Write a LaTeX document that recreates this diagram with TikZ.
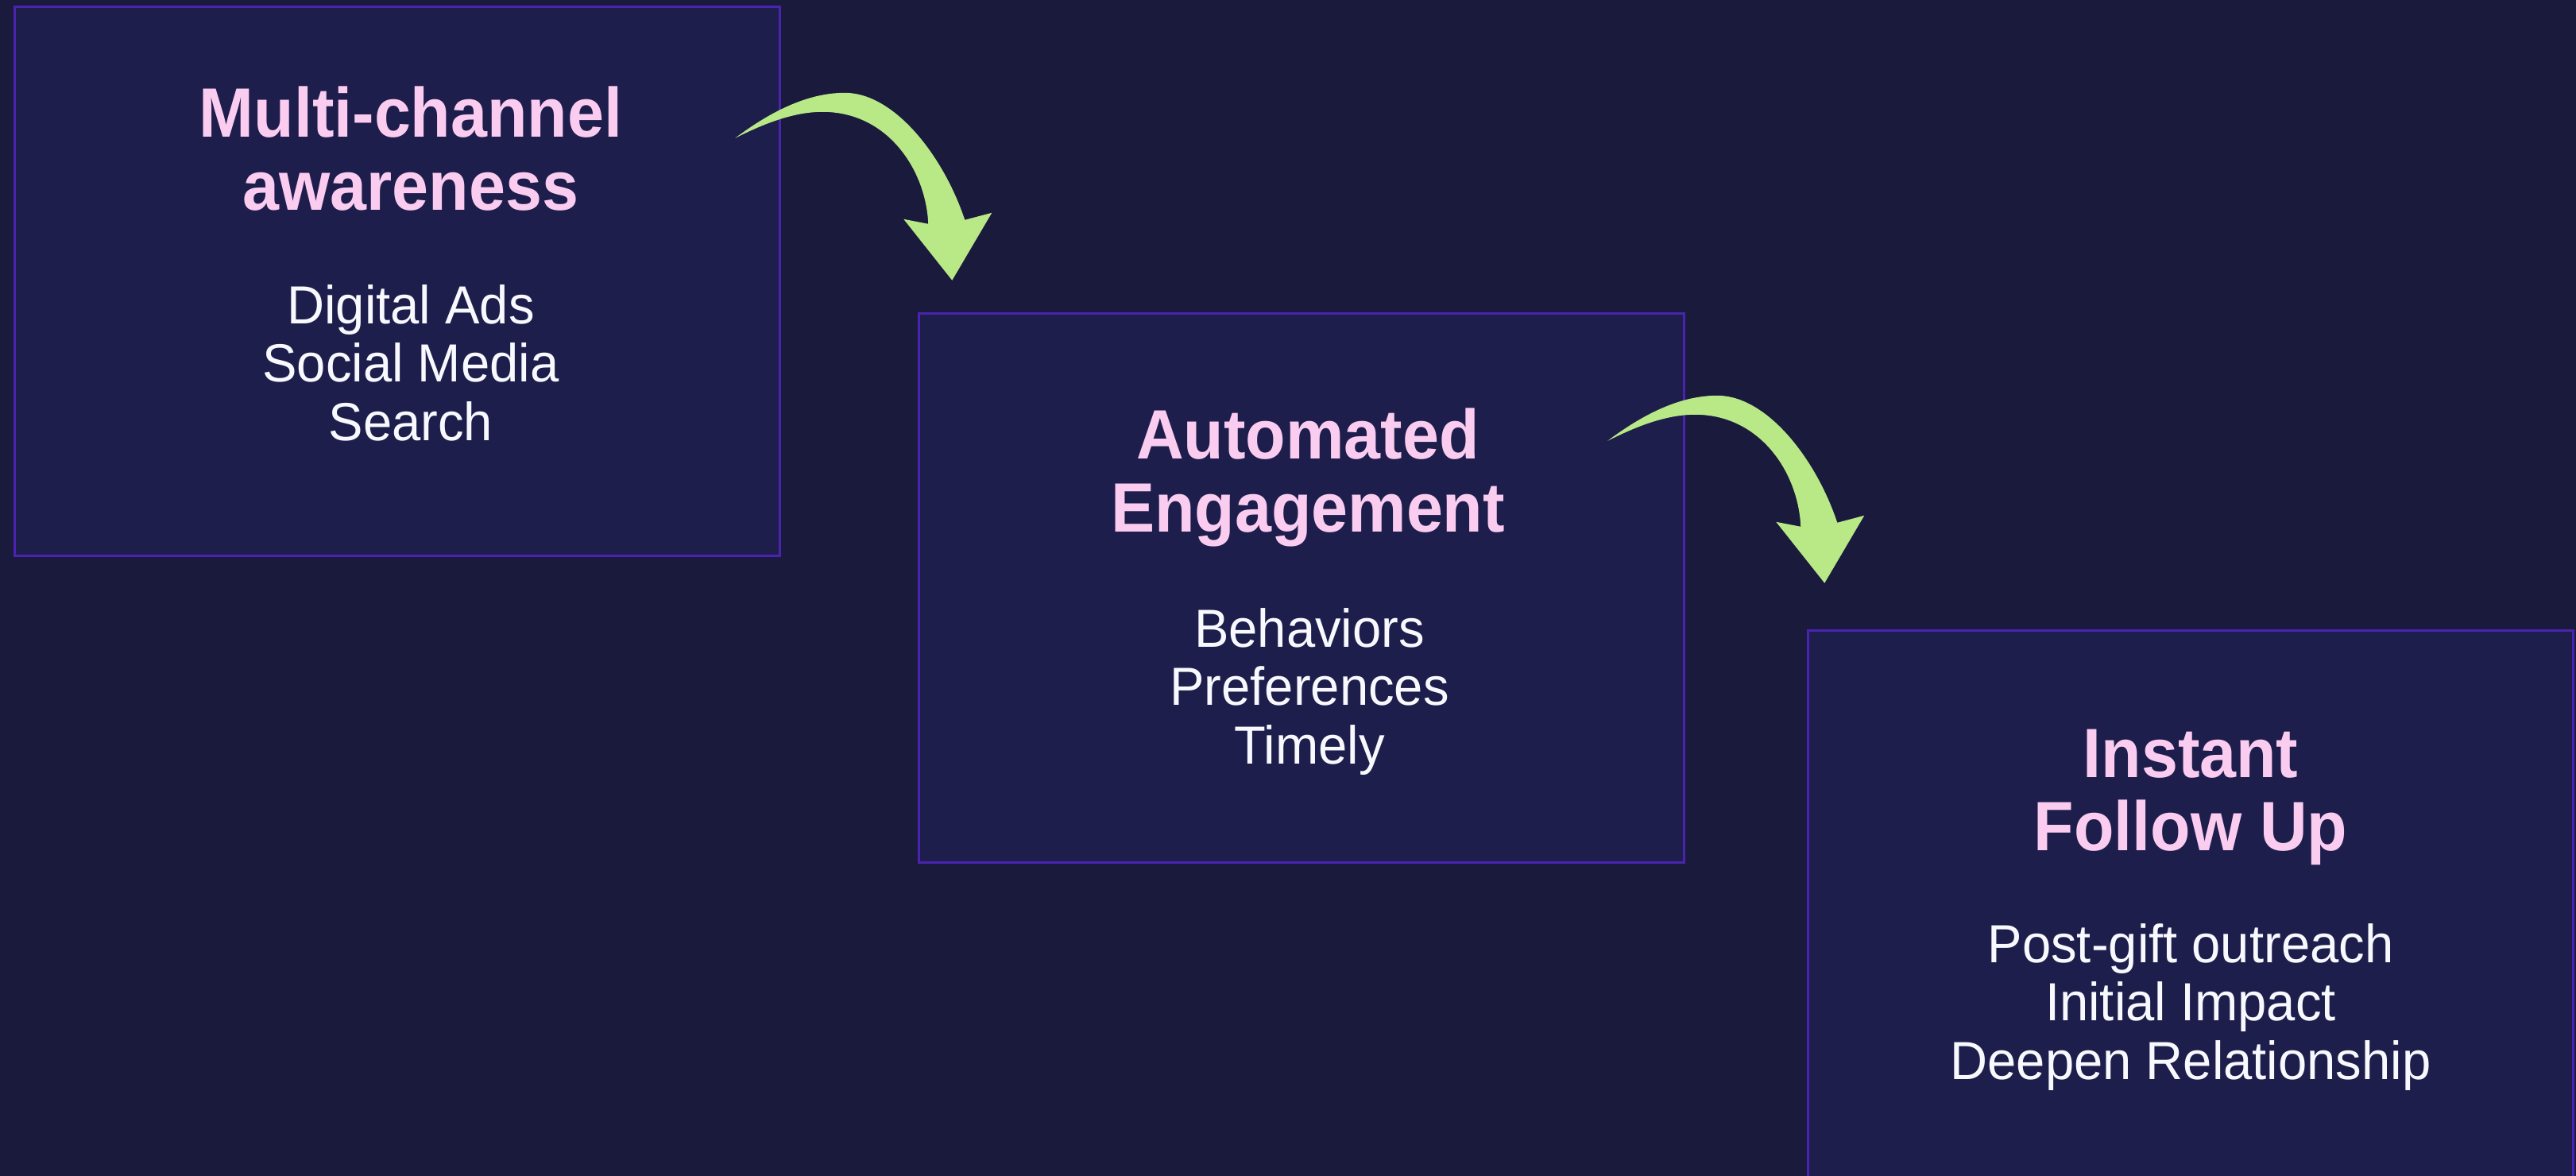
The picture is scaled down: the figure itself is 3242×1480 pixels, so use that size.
\documentclass[tikz,border=0pt]{standalone}
\usepackage{fontspec}
\newfontfamily\headfont{Liberation Sans}[FakeStretch=0.94]
\newfontfamily\listfont{Liberation Sans}[FakeStretch=0.965]
\usetikzlibrary{calc}

\definecolor{pagebg}{HTML}{1A1A3C}
\definecolor{boxfill}{HTML}{1E1E4C}
\definecolor{boxline}{HTML}{4A24B0}
\definecolor{headpink}{HTML}{FACCF0}
\definecolor{listwhite}{HTML}{F8F8FF}
\definecolor{arrowgreen}{HTML}{B8E986}

\tikzset{
	stage/.style={draw=boxline, fill=boxfill, line width=0.85pt, rectangle,
		inner sep=0pt, minimum width=9.63cm, minimum height=6.91cm},
	headline/.style={anchor=base, align=center, text=headpink,
		font=\headfont\bfseries\fontsize{25pt}{26.2pt}\selectfont},
	itemlist/.style={anchor=base, align=center, text=listwhite,
		font=\listfont\fontsize{19.2pt}{21pt}\selectfont},
	bendarrow/.pic={
		\fill[arrowgreen] (0,0) .. controls (40,-30) and (88,-57) .. (138,-57)
			.. controls (200,-57) and (262,22) .. (289,103)
			-- (323,94) -- (273,179) -- (212,102) -- (243,108)
			.. controls (240,40) and (192,-33) .. (110,-33)
			.. controls (70,-33) and (30,-15) .. (0,0) -- cycle;
	}
}

\begin{document}
\begin{tikzpicture}[x=0.01cm, y=-0.01cm]
	\useasboundingbox (0,0) rectangle (3242,1480);
	\fill[pagebg] (0,0) rectangle (3242,1480);

	\node[stage] (aware)  at (500,354)  {};
	\node[stage] (engage) at (1638,740) {};
	\node[stage] (follow) at (2757,1139) {};

	% base anchor sits on the last line
	\node[headline] (awaretitle) at ($(aware.north)+(17,258)$)
		{Multi-channel\\awareness};
	\node[itemlist] (awarelist) at ($(aware.north)+(17,548)$)
		{Digital Ads\\Social Media\\Search};

	\node[headline] (engagetitle) at ($(engage.north)+(8,277)$)
		{Automated\\Engagement};
	\node[itemlist] (engagelist) at ($(engage.north)+(10,569)$)
		{Behaviors\\Preferences\\Timely};

	\node[headline] (followtitle) at ($(follow.north)+(0,279)$)
		{Instant\\Follow Up};
	\node[itemlist] (followlist) at ($(follow.north)+(0,567)$)
		{Post-gift outreach\\Initial Impact\\Deepen Relationship};

	\pic at ($(aware.north east)+(-58,167)$) {bendarrow};
	\pic at ($(engage.north east)+(-98,162)$) {bendarrow};
\end{tikzpicture}
\end{document}
